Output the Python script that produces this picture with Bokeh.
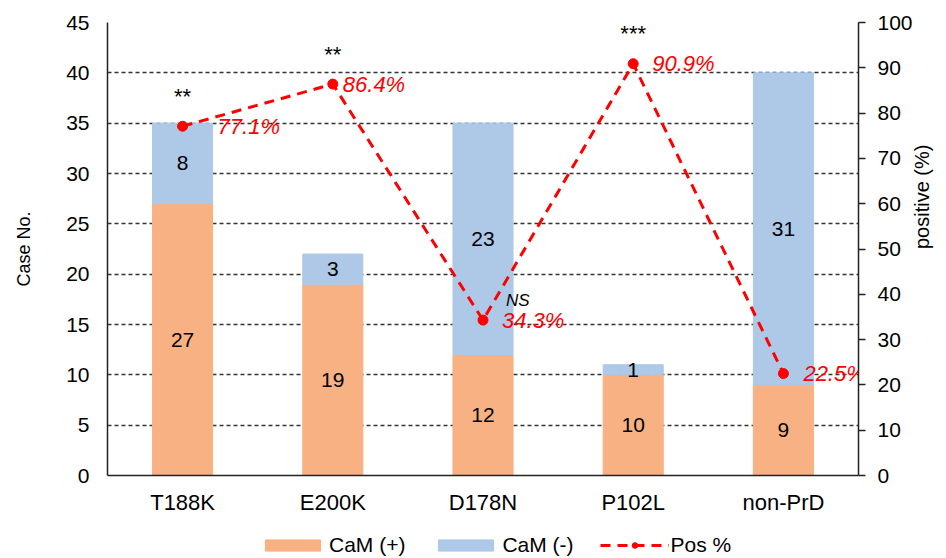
import math
from bokeh.plotting import figure
from bokeh.layouts import column
from bokeh.models import (ColumnDataSource, Range1d, LinearAxis, FixedTicker, Legend, LegendItem, FactorRange)
from bokeh.core.properties import value
from bokeh.embed import file_html
from bokeh.resources import INLINE

categories = ["T188K", "E200K", "D178N", "P102L", "non-PrD"]
cam_pos = [27, 19, 12, 10, 9]
cam_neg = [8, 3, 23, 1, 31]
pos_pct = [77.1, 86.4, 34.3, 90.9, 22.5]
pct_labels = ["77.1%", "86.4%", "34.3%", "90.9%", "22.5%"]
sig_labels = ["**", "**", "NS", "***", ""]
left_ticks = [0, 5, 10, 15, 20, 25, 30, 35, 40, 45]
right_ticks = [0, 10, 20, 30, 40, 50, 60, 70, 80, 90, 100]
legend_labels = ["CaM (+)", "CaM (-)", "Pos %"]

FONT = "Liberation Sans"
ORANGE = "#F8B183"
BLUE = "#AEC8E8"
RED = "#FF0000"

totals = [a + b for a, b in zip(cam_pos, cam_neg)]
src = ColumnDataSource(dict(
    cat=categories, pos=cam_pos, neg=cam_neg, total=totals,
    pos_mid=[a / 2 for a in cam_pos],
    neg_mid=[a + b / 2 for a, b in zip(cam_pos, cam_neg)],
    pos_txt=[str(v) for v in cam_pos], neg_txt=[str(v) for v in cam_neg],
    pct=pos_pct, pct_txt=pct_labels,
))

p = figure(width=946, height=530, x_range=FactorRange(*categories, range_padding=0),
           y_range=Range1d(0, 45), output_backend="svg", toolbar_location=None,
           min_border_left=107, min_border_right=88, min_border_top=22, min_border_bottom=55)
p.x_range.range_padding = 0
p.outline_line_color = None
p.background_fill_color = "white"
p.extra_y_ranges = {"pct": Range1d(0, 100)}

p.vbar(x="cat", top="pos", bottom=0, width=0.4, color=ORANGE, source=src)
p.vbar(x="cat", top="total", bottom="pos", width=0.4, color=BLUE, source=src)

p.text(x="cat", y="pos_mid", text="pos_txt", source=src, text_align="center", text_baseline="middle",
       text_font=value(FONT), text_font_size="21px", text_color="black")
p.text(x="cat", y="neg_mid", text="neg_txt", source=src, text_align="center", text_baseline="middle",
       text_font=value(FONT), text_font_size="21px", text_color="black")

p.line(x="cat", y="pct", source=src, y_range_name="pct", line_color=RED, line_width=3, line_dash="10 7")
p.scatter(x="cat", y="pct", source=src, y_range_name="pct", size=10, color=RED)

# percent labels
offsets = [35, 10, 19, 19, 20]
for c, v, t, o in zip(categories, pos_pct, pct_labels, offsets):
    p.text(x=[c], y=[v], text=[t], y_range_name="pct", x_offset=o, text_align="left",
           text_baseline="middle", text_font=value(FONT), text_font_size="22px",
           text_font_style="italic", text_color=RED)

# significance labels
for c, v, s in zip(categories, pos_pct, sig_labels):
    if not s:
        continue
    if s == "NS":
        p.text(x=[c], y=[v], text=[s], y_range_name="pct", x_offset=23, y_offset=-20,
               text_align="left", text_baseline="middle", text_font=value(FONT),
               text_font_size="17px", text_font_style="italic", text_color="black")
    else:
        p.text(x=[c], y=[v], text=[s], y_range_name="pct", y_offset=-30,
               text_align="center", text_baseline="middle", text_font=value(FONT),
               text_font_size="22px", text_color="black")

# axes
p.yaxis.ticker = FixedTicker(ticks=left_ticks)
p.yaxis.axis_label = "Case No."
ax = p.yaxis[0]
ax.major_tick_out = 0
ax.major_tick_in = 0
ax.minor_tick_out = 0
ax.minor_tick_in = 0
ax.axis_line_color = "#222222"
ax.axis_line_width = 1.5
ax.major_label_text_font = FONT
ax.major_label_text_font_size = "21px"
ax.major_label_text_color = "black"
ax.axis_label_text_font = FONT
ax.axis_label_text_font_size = "18px"
ax.axis_label_text_font_style = "normal"
ax.axis_label_text_color = "black"
ax.major_label_standoff = 18
ax.axis_label_standoff = 29

ra = LinearAxis(y_range_name="pct", ticker=FixedTicker(ticks=right_ticks), axis_label="positive (%)")
ra.major_tick_out = 7
ra.major_tick_in = 0
ra.minor_tick_out = 0
ra.minor_tick_in = 0
ra.axis_line_color = "#222222"
ra.axis_line_width = 1.5
ra.major_tick_line_color = "#222222"
ra.major_tick_line_width = 1.5
ra.major_label_text_font = FONT
ra.major_label_text_font_size = "21px"
ra.major_label_text_color = "black"
ra.axis_label_text_font = FONT
ra.axis_label_text_font_size = "20px"
ra.axis_label_text_font_style = "normal"
ra.axis_label_text_color = "black"
ra.axis_label_orientation = math.pi / 2
ra.major_label_standoff = 12
ra.axis_label_standoff = 6
p.add_layout(ra, "right")

xa = p.xaxis[0]
xa.major_tick_out = 0
xa.major_tick_in = 0
xa.axis_line_color = "#222222"
xa.axis_line_width = 1.5
xa.major_label_text_font = FONT
xa.major_label_text_font_size = "22px"
xa.major_label_text_color = "black"
xa.major_label_standoff = 14

p.xgrid.grid_line_color = None
p.ygrid.grid_line_color = "#333333"
p.ygrid.grid_line_dash = "4 3"
p.ygrid.grid_line_width = 1.3

# legend strip below the chart (its renderers lie outside the visible range)
p2 = figure(width=946, height=28, x_range=FactorRange(*categories), y_range=Range1d(1000, 1001),
            output_backend="svg", toolbar_location=None, x_axis_location=None,
            y_axis_location=None, min_border=0)
p2.outline_line_color = None
p2.grid.grid_line_color = None
lg_pos = p2.vbar(x="cat", top="pos", bottom=0, width=0.4, color=ORANGE, source=src)
lg_neg = p2.vbar(x="cat", top="total", bottom="pos", width=0.4, color=BLUE, source=src)
lg_line = p2.line(x="cat", y="pct", source=src, line_color=RED, line_width=3, line_dash="10 7")
lg_pts = p2.scatter(x="cat", y="pct", source=src, size=10, color=RED)

legend = Legend(items=[
    LegendItem(label=legend_labels[0], renderers=[lg_pos]),
    LegendItem(label=legend_labels[1], renderers=[lg_neg]),
    LegendItem(label=legend_labels[2], renderers=[lg_line, lg_pts]),
], orientation="horizontal", location=(151, 1), background_fill_alpha=0,
    border_line_color=None, label_text_font=FONT, label_text_font_size="21px",
    label_text_color="black",
    glyph_width=69, glyph_height=14, spacing=26, label_standoff=2, padding=0, margin=0)
p2.add_layout(legend, "center")

layout = column(p, p2, spacing=0)
open("out.html", "w").write(file_html(layout, INLINE))
